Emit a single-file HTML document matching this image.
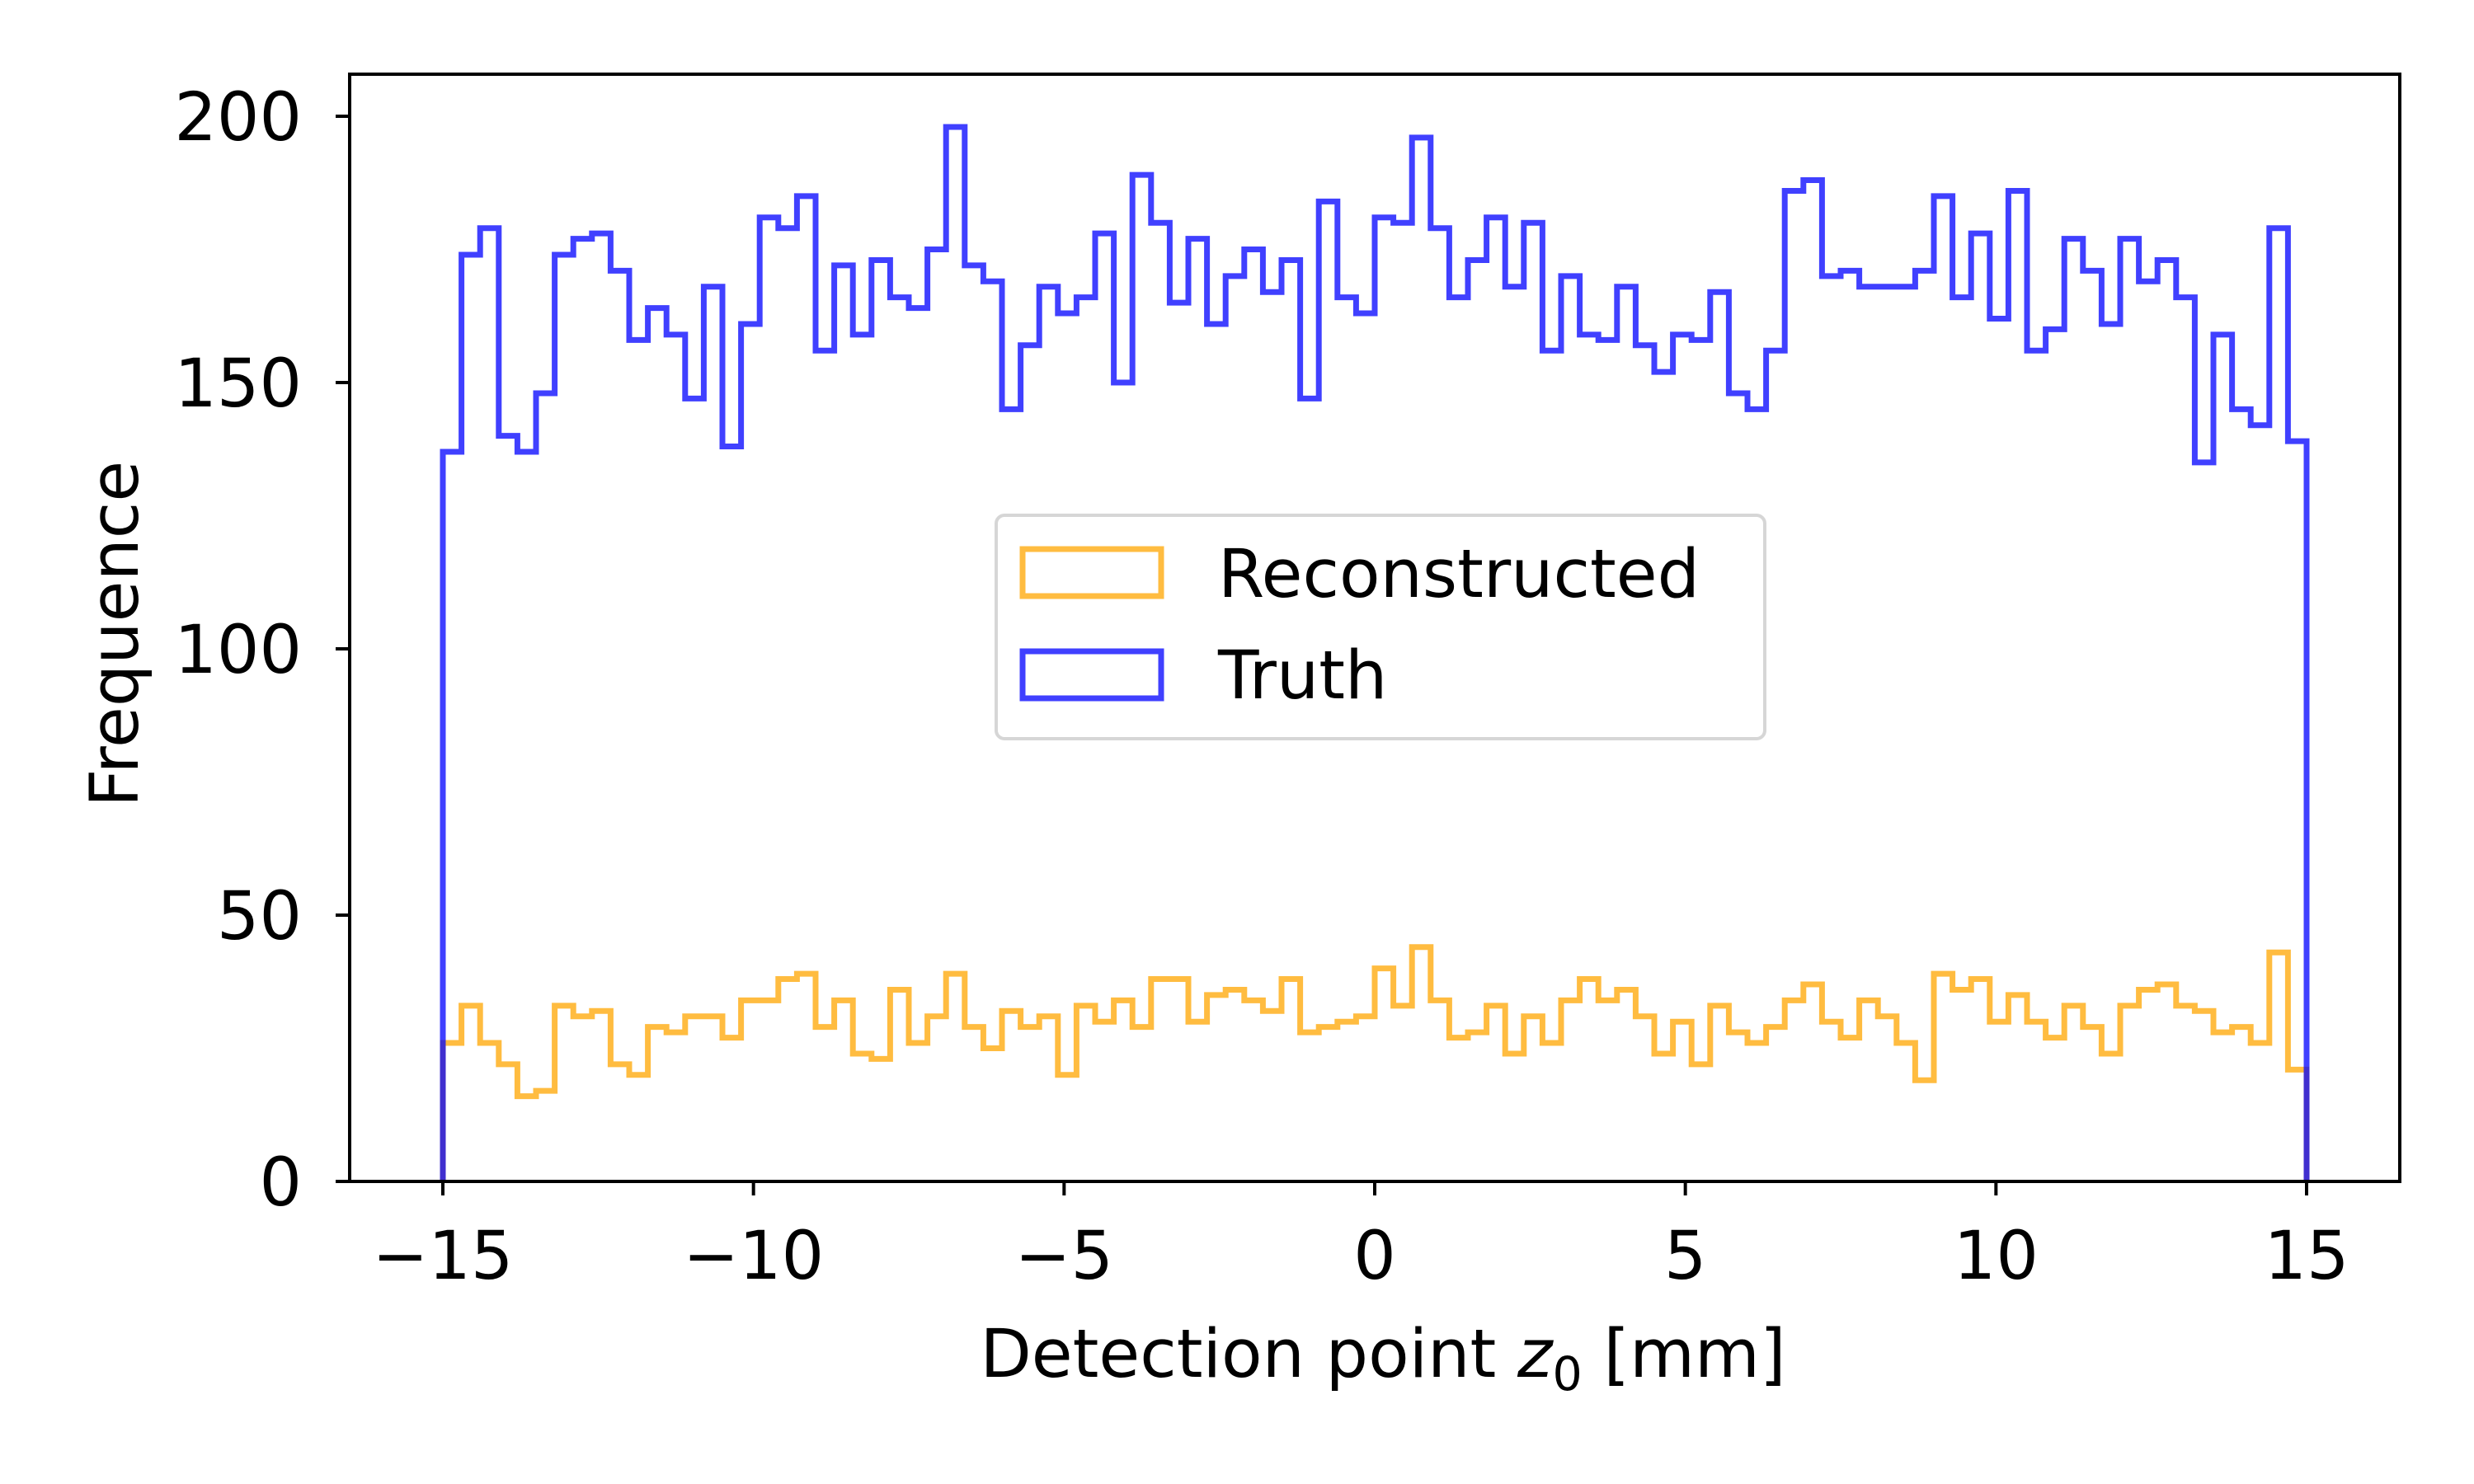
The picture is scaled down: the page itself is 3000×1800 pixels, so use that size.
<!DOCTYPE html>
<html><head><meta charset="utf-8"><style>
html,body{margin:0;padding:0;background:#fff;}
svg{display:block;font-family:"DejaVu Sans","Liberation Sans",sans-serif;}
</style></head><body>
<svg id="chart" width="3000" height="1800" viewBox="0 0 3000 1800" xmlns="http://www.w3.org/2000/svg">
<rect width="3000" height="1800" fill="#fff"/>
<g id="plot"></g>
<g id="axes"></g>
<text x="1677" y="1670" font-size="81" text-anchor="middle">Detection point <tspan font-style="italic">z</tspan><tspan font-size="57" dy="16">0</tspan><tspan dy="-16"> [mm]</tspan></text>
<text x="0" y="0" font-size="81" text-anchor="middle" transform="translate(167,769) rotate(-90)">Frequence</text>
<g>
<rect x="1208" y="625" width="932" height="271" rx="10" fill="#fff" fill-opacity="0.8" stroke="#d6d6d6" stroke-width="4"/>
<g>
<rect x="1240" y="666" width="168" height="57" fill="none" stroke="#ffa500" stroke-opacity="0.75" stroke-width="7"/>
<text x="1477" y="724" font-size="81">Reconstructed</text>
</g>
<g>
<rect x="1240" y="790" width="168" height="57" fill="none" stroke="#0000ff" stroke-opacity="0.75" stroke-width="7"/>
<text x="1477" y="847" font-size="81">Truth</text>
</g>
</g>
</svg>
<script>
const binStart = -15;
const binWidth = 0.3;
const truthCounts = [137,174,179,140,137,148,174,177,178,171,158,164,159,147,168,138,161,181,179,185,
156,172,159,173,166,164,175,198,172,169,145,157,168,163,166,178,150,189,180,165,
177,161,170,175,167,173,147,184,166,163,181,180,196,179,166,173,181,168,180,156,
170,159,158,168,157,152,159,158,167,148,145,156,186,188,170,171,168,168,168,171,
185,166,178,162,186,156,160,177,171,161,177,169,173,166,135,159,145,142,179,139];
const recoCounts = [26,33,26,22,16,17,33,31,32,22,20,29,28,31,31,27,34,34,38,39,
29,34,24,23,36,26,31,39,29,25,32,29,31,20,33,30,34,29,38,38,
30,35,36,34,32,38,28,29,30,31,40,33,44,34,27,28,33,24,31,26,
34,38,34,36,31,24,30,22,33,28,26,29,34,37,30,27,34,31,26,19,
39,36,38,30,35,30,27,33,29,24,33,36,37,33,32,28,29,26,43,21];
const xTicks = [-15,-10,-5,0,5,10,15];
const yTicks = [0,50,100,150,200];

const NS = "http://www.w3.org/2000/svg";
const X0 = 424, X1 = 2910, Y0 = 1433, Y1 = 90;
const xMin = -16.5, xMax = 16.5, yMin = 0, yMax = 207.9;
function sx(v){ return X0 + (v - xMin) / (xMax - xMin) * (X1 - X0); }
function sy(v){ return Y0 - (v - yMin) / (yMax - yMin) * (Y0 - Y1); }
function mk(tag, attrs, parent){ const e = document.createElementNS(NS, tag); for (const k in attrs) e.setAttribute(k, attrs[k]); parent.appendChild(e); return e; }

const plot = document.getElementById('plot');
function stepPath(counts){
  let d = 'M' + sx(binStart) + ',' + sy(0);
  for (let i = 0; i < counts.length; i++){
    const a = sx(binStart + i * binWidth), b = sx(binStart + (i + 1) * binWidth);
    d += ' L' + a + ',' + sy(counts[i]) + ' L' + b + ',' + sy(counts[i]);
  }
  d += ' L' + sx(binStart + counts.length * binWidth) + ',' + sy(0);
  return d;
}
const pr = mk('path', {d: stepPath(recoCounts), fill: 'none', stroke: '#ffa500', 'stroke-opacity': 0.75, 'stroke-width': 7, 'stroke-linejoin': 'miter'}, plot);


const pt = mk('path', {d: stepPath(truthCounts), fill: 'none', stroke: '#0000ff', 'stroke-opacity': 0.75, 'stroke-width': 7, 'stroke-linejoin': 'miter'}, plot);



const axes = document.getElementById('axes');
const frame = mk('rect', {x: X0, y: Y1, width: X1 - X0, height: Y0 - Y1, fill: 'none', stroke: '#000', 'stroke-width': 4}, axes);


xTicks.forEach(t => {
  const x = sx(t);
  const tk = mk('line', {x1: x, x2: x, y1: Y0, y2: Y0 + 17, stroke: '#000', 'stroke-width': 4}, axes);
  
  
  const lb = mk('text', {x: x, y: 1551, 'font-size': 81, 'text-anchor': 'middle'}, axes);
  lb.textContent = t < 0 ? '\u2212' + Math.abs(t) : String(t);
  
  
});
yTicks.forEach(t => {
  const y = sy(t);
  const tk = mk('line', {x1: X0 - 17, x2: X0, y1: y, y2: y, stroke: '#000', 'stroke-width': 4}, axes);
  
  
  const lb = mk('text', {x: 366, y: y + 29, 'font-size': 81, 'text-anchor': 'end'}, axes);
  lb.textContent = String(t);
  
  
});
</script>
</body></html>
